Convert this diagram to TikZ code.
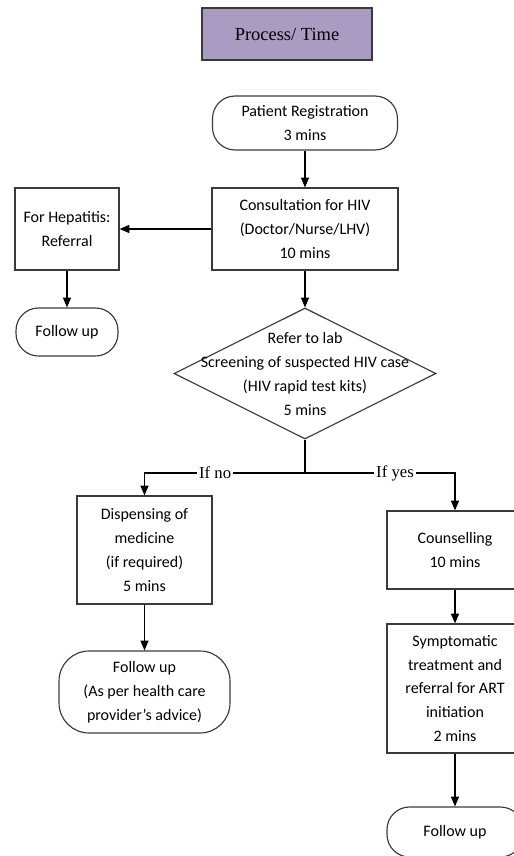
\documentclass[tikz,border=0pt]{standalone}
\usepackage{fontspec}
\setmainfont{Carlito}
\newfontfamily\seriffont{Liberation Serif}
\usepackage{tikz}
\usetikzlibrary{arrows.meta,positioning,shapes.geometric,calc}
\definecolor{titlepurple}{HTML}{A99BC2}
\definecolor{edgegray}{HTML}{3A3A3A}

\begin{document}
\begin{tikzpicture}[x=0.02cm, y=-0.02cm, >={Triangle[length=5.6pt,width=4.6pt]},
  every node/.style={font=\fontsize{9.1}{13.6}\selectfont, align=center},
  box/.style={draw=edgegray, line width=0.65pt, inner sep=0pt},
  endbox/.style={box, rounded corners=0.45cm},
  flow/.style={->, draw=black, line width=0.65pt},
  branchlabel/.style={fill=white, inner sep=1pt, font=\seriffont\fontsize{9.5}{11}\selectfont}]
  \useasboundingbox (0,0) rectangle (514,856);
  \clip (0,0) rectangle (514,856);

  \node[box, fill=titlepurple, minimum width=3.4cm, minimum height=1.04cm, font=\seriffont\fontsize{10.5}{12}\selectfont] (title) at (287,34) {Process/ Time};

  \node[endbox, minimum width=3.7cm, minimum height=1.08cm] (reg) at (305,123) {Patient Registration\\3 mins};
  \node[box, minimum width=3.72cm, minimum height=1.64cm] (consult) at (305,229) {Consultation for HIV\\(Doctor/Nurse/LHV)\\10 mins};
  \node[box, minimum width=2.08cm, minimum height=1.64cm] (hep) at (67,229) {For Hepatitis:\\Referral};
  \node[endbox, minimum width=2.04cm, minimum height=0.96cm] (fuhep) at (67,332) {Follow up};

  \node[diamond, draw=edgegray, line width=0.65pt, inner sep=0pt, minimum width=5.24cm, minimum height=2.62cm] (lab) at (305,373.5)
    {\makebox[0pt]{\smash{\raisebox{-0.1cm}{\begin{tabular}{@{}c@{}}Refer to lab\\Screening of suspected HIV case\\(HIV rapid test kits)\\5 mins\end{tabular}}}}};
  \coordinate (split) at (305,473);

  % no branch
  \node[box, minimum width=2.7cm, minimum height=2.16cm] (disp) at (144.5,550) {Dispensing of\\medicine\\(if required)\\5 mins};
  \node[endbox, rounded corners=0.6cm, minimum width=3.42cm, minimum height=1.64cm] (fuadv) at (144.5,692) {Follow up\\(As per health care\\provider's advice)};

  % yes branch
  \node[box, minimum width=2.72cm, minimum height=1.56cm] (couns) at (455,550) {Counselling\\10 mins};
  \node[box, minimum width=2.72cm, minimum height=2.58cm] (art) at (455,688.5) {Symptomatic\\treatment and\\referral for ART\\initiation\\2 mins};
  \node[endbox, minimum width=2.72cm, minimum height=1.0cm] (fuart) at (455,832) {Follow up};

  \draw[flow] (reg) -- (consult);
  \draw[flow] (consult) -- (hep);
  \draw[flow] (hep) -- (fuhep);
  \draw[flow] (consult) -- (lab);
  \draw[line width=0.65pt] (lab) -- (split);
  \draw[flow] (split) -| node[branchlabel, pos=0.28] {If no} (disp);
  \draw[flow] (split) -| node[branchlabel, pos=0.3] {If yes} (couns);
  \draw[flow] (disp) -- (fuadv);
  \draw[flow] (couns) -- (art);
  \draw[flow] (art) -- (fuart);
\end{tikzpicture}
\end{document}
